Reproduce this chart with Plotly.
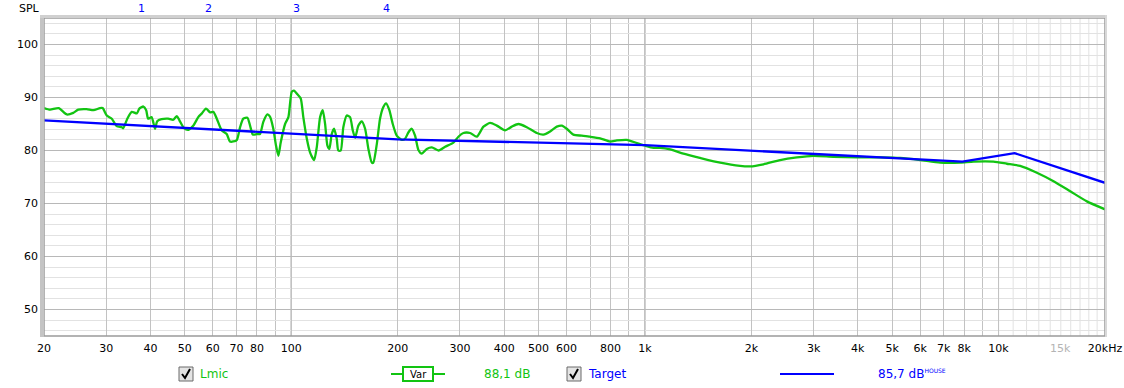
import numpy as np
import plotly.graph_objects as go

# ---------------- data ----------------
lmic_freq = [20.0, 20.8, 22.0, 23.2, 24.2, 25.0, 26.4, 27.6, 28.8, 29.3, 30.1, 31.1, 32.1, 33.2, 33.5,
             34.4, 35.4, 36.6, 37.2, 38.2, 38.9, 39.4, 40.3, 41.2, 41.8, 43.0, 44.9, 46.4, 47.5, 48.3,
             49.8, 51.2, 52.9, 54.6, 55.9, 57.4, 59.0, 60.2, 61.6, 63.6, 65.7, 67.1, 68.6, 70.2, 71.7,
             73.2, 75.2, 76.5, 77.9, 79.9, 81.6, 83.4, 85.6, 87.1, 89.0, 90.6, 92.0, 93.4, 96.1, 98.2,
             100.4, 101.9, 104.1, 106.4, 108.2, 110.7, 113.1, 116.1, 118.1, 120.7, 122.8, 124.7, 126.6,
             128.2, 130.2, 132.2, 134.5, 135.9, 138.1, 140.4, 143.6, 146.7, 149.3, 151.6, 154.9, 158.3,
             161.8, 165.3, 169.0, 170.7, 174.6, 178.3, 182.2, 185.5, 189.5, 193.7, 198.8, 205.4, 209.8,
             214.4, 219.2, 224.0, 228.9, 234.0, 241.8, 249.8, 260.9, 272.4, 287.5, 297.0, 306.8, 320.6,
             334.8, 349.6, 365.1, 381.4, 402.6, 420.4, 438.9, 463.6, 494.8, 516.6, 539.6, 563.6, 582.3,
             601.5, 627.9, 663.3, 700.2, 747.5, 797.5, 833.1, 889.2, 949.2, 1002, 1057, 1104, 1179, 1285,
             1433, 1633, 1859, 1984, 2165, 2413, 2690, 2995, 3414, 3977, 4629, 5271, 6006, 6840, 7790,
             8497, 9676, 10560, 11512, 12836, 14305, 15949, 17776, 20000]
lmic_db = [88.0, 87.7, 88.0, 86.8, 87.1, 87.7, 87.8, 87.6, 88.0, 88.0, 86.6, 86.0, 84.6, 84.4, 84.2,
           86.0, 87.3, 87.0, 87.9, 88.3, 87.6, 86.0, 86.3, 84.1, 85.5, 85.9, 86.0, 85.8, 86.5, 85.7,
           84.2, 83.9, 84.7, 86.3, 87.0, 87.9, 87.2, 87.3, 86.0, 83.8, 83.1, 81.7, 81.7, 82.0, 84.4,
           86.0, 86.2, 84.7, 83.0, 83.1, 83.1, 85.4, 86.8, 86.4, 84.1, 80.9, 79.0, 81.5, 85.0, 86.3,
           91.1, 91.3, 90.6, 89.8, 86.3, 82.2, 79.6, 78.2, 80.6, 86.3, 87.6, 85.0, 80.9,
           80.3, 83.1, 84.1, 82.2, 80.0, 80.0, 84.4, 86.6, 86.3, 83.8, 82.4, 84.7, 85.5,
           84.1, 80.3, 77.7, 77.7, 81.2, 86.0, 88.2, 88.9, 87.6, 85.0, 82.8, 82.0, 82.2,
           83.4, 84.1, 82.8, 80.1, 79.4, 80.3, 80.6, 80.0, 80.7, 81.5, 82.6, 83.3, 83.3,
           82.6, 84.5, 85.2, 84.7, 83.8, 84.5, 85.0, 84.4, 83.3, 83.0, 83.6, 84.5, 84.7,
           84.1, 83.0, 82.8, 82.6, 82.3, 81.7, 81.9, 82.0, 81.4, 80.9, 80.5, 80.5, 80.2, 79.4,
           78.6, 77.7, 77.1, 77.0, 77.4, 78.2, 78.7, 79.0, 78.8, 78.7, 78.7, 78.6, 78.2, 77.7, 77.7,
           77.9, 77.9, 77.5, 77.1, 75.8, 74.2, 72.3, 70.4, 68.9]

target_freq = [20, 200, 1000, 7900, 11100, 20000]
target_db = [85.7, 82.1, 81.0, 77.9, 79.5, 73.9]

tick_vals = [20, 30, 40, 50, 60, 70, 80, 100, 200, 300, 400, 500, 600, 800,
             1000, 2000, 3000, 4000, 5000, 6000, 7000, 8000, 10000, 20000]
tick_text = ["20", "30", "40", "50", "60", "70", "80", "100", "200", "300", "400", "500", "600",
             "800", "1k", "2k", "3k", "4k", "5k", "6k", "7k", "8k", "10k", "20kHz"]
unlabelled_grid = [90, 700, 900, 9000]
light_grid = [11000, 12000, 13000, 14000, 15000, 16000, 17000, 18000, 19000]
dark_grid = [100, 1000, 10000]
gray_label_freq = 15000
gray_label_text = "15k"

mode_freqs = [37.8, 58.3, 103.2, 186.3]
mode_labels = ["1", "2", "3", "4"]

y_range = [45, 105]

# ---------------- style ----------------
W, H = 1124, 388
L, R, T, B = 44, 1105, 18, 336
FONT = "DejaVu Sans"
GREEN = "#12c412"
BLUE = "#0000ff"


def px(x):
    return (x - L) / (R - L)


def py(y):
    return (B - y) / (B - T)


fig = go.Figure()
fig.add_trace(go.Scatter(x=lmic_freq, y=lmic_db, mode="lines",
                         line=dict(color=GREEN, width=2.3, shape="spline", smoothing=0.6),
                         hoverinfo="skip", showlegend=False))
fig.add_trace(go.Scatter(x=target_freq, y=target_db, mode="lines",
                         line=dict(color=BLUE, width=2.3),
                         hoverinfo="skip", showlegend=False))

shapes = []
for f in light_grid:
    shapes.append(dict(type="line", xref="x", yref="paper", x0=f, x1=f, y0=0, y1=1,
                       line=dict(color="#e2e2e2", width=1), layer="below"))
for f in dark_grid:
    shapes.append(dict(type="line", xref="x", yref="paper", x0=f, x1=f, y0=0, y1=1,
                       line=dict(color="#7c7c7c", width=1), layer="below"))
# frame
shapes.append(dict(type="rect", xref="paper", yref="paper", x0=0, x1=1, y0=0, y1=1,
                   line=dict(color="#9a9a9a", width=1.5), layer="above"))
shapes.append(dict(type="rect", xref="paper", yref="paper", x0=px(40), x1=px(44), y0=py(B + 1), y1=py(T - 3),
                   line=dict(width=0), fillcolor="#c4c4c4", layer="above"))
shapes.append(dict(type="rect", xref="paper", yref="paper", x0=px(40), x1=px(R + 1), y0=py(T), y1=py(T - 3),
                   line=dict(width=0), fillcolor="#d0d0d0", layer="above"))
shapes.append(dict(type="rect", xref="paper", yref="paper", x0=px(R), x1=px(R + 2), y0=py(B + 1), y1=py(T - 3),
                   line=dict(width=0), fillcolor="#d8d8d8", layer="above"))

annotations = []
annotations.append(dict(text="SPL", xref="paper", yref="paper", x=px(29), y=py(8), showarrow=False,
                        font=dict(family=FONT, size=11, color="#000"), xanchor="center", yanchor="middle"))
for f, t in zip(mode_freqs, mode_labels):
    annotations.append(dict(text=t, xref="x", yref="paper", x=np.log10(f), y=py(8), showarrow=False,
                            font=dict(family=FONT, size=11, color=BLUE), xanchor="center", yanchor="middle"))
annotations.append(dict(text=gray_label_text, xref="x", yref="paper", x=np.log10(gray_label_freq), y=py(348),
                        showarrow=False, font=dict(family=FONT, size=11, color="#b4b4b4"),
                        xanchor="center", yanchor="middle"))

# legend row
LY = 374
for cx in (186, 574):
    shapes.append(dict(type="rect", xref="paper", yref="paper", x0=px(cx - 7), x1=px(cx + 7),
                       y0=py(LY + 7), y1=py(LY - 7), line=dict(color="#6a6a6a", width=1),
                       fillcolor="#e4e4e4", layer="above"))
    path = "M {:.5f},{:.5f} L {:.5f},{:.5f} L {:.5f},{:.5f}".format(
        px(cx - 4), py(LY), px(cx - 1), py(LY + 4), px(cx + 4), py(LY - 5))
    shapes.append(dict(type="path", xref="paper", yref="paper", path=path,
                       line=dict(color="#000", width=2), layer="above"))
annotations.append(dict(text="Lmic", xref="paper", yref="paper", x=px(198), y=py(LY), showarrow=False,
                        font=dict(family=FONT, size=12, color=GREEN), xanchor="left", yanchor="middle"))
shapes.append(dict(type="line", xref="paper", yref="paper", x0=px(391), x1=px(445), y0=py(LY), y1=py(LY),
                   line=dict(color=GREEN, width=2), layer="above"))
shapes.append(dict(type="rect", xref="paper", yref="paper", x0=px(403), x1=px(433), y0=py(LY + 7), y1=py(LY - 7),
                   line=dict(color=GREEN, width=2), fillcolor="#ffffff", layer="above"))
annotations.append(dict(text="Var", xref="paper", yref="paper", x=px(418), y=py(LY), showarrow=False,
                        font=dict(family=FONT, size=10, color="#000"), xanchor="center", yanchor="middle"))
annotations.append(dict(text="88,1 dB", xref="paper", yref="paper", x=px(507), y=py(LY), showarrow=False,
                        font=dict(family=FONT, size=12, color=GREEN), xanchor="center", yanchor="middle"))
annotations.append(dict(text="Target", xref="paper", yref="paper", x=px(586), y=py(LY), showarrow=False,
                        font=dict(family=FONT, size=12, color=BLUE), xanchor="left", yanchor="middle"))
shapes.append(dict(type="line", xref="paper", yref="paper", x0=px(780), x1=px(834), y0=py(LY), y1=py(LY),
                   line=dict(color=BLUE, width=2), layer="above"))
annotations.append(dict(text="85,7 dB<sup><span style='font-size:6px'>HOUSE</span></sup>",
                        xref="paper", yref="paper", x=px(876), y=py(LY), showarrow=False,
                        font=dict(family=FONT, size=12, color=BLUE), xanchor="left", yanchor="middle"))

fig.update_layout(
    template="none",
    width=W, height=H,
    margin=dict(l=L, r=W - R, t=T, b=H - B, pad=0, autoexpand=False),
    paper_bgcolor="#ffffff", plot_bgcolor="#ffffff",
    font=dict(family=FONT, size=11, color="#000"),
    shapes=shapes, annotations=annotations,
    hovermode=False,
    xaxis=dict(type="log", range=[np.log10(20), np.log10(20000)], automargin=False,
               tickmode="array", tickvals=tick_vals, ticktext=tick_text,
               showgrid=True, gridcolor="#c2c2c2", gridwidth=1,
               minor=dict(tickmode="array", tickvals=unlabelled_grid, showgrid=True,
                          gridcolor="#c2c2c2", gridwidth=1, ticks=""),
               ticks="", ticklabelstandoff=4, zeroline=False, showline=False,
               tickfont=dict(family=FONT, size=11, color="#000"), fixedrange=True),
    yaxis=dict(range=y_range, tickmode="linear", tick0=0, dtick=10, automargin=False,
               showgrid=True, gridcolor="#b8b8b8", gridwidth=1,
               minor=dict(dtick=2, tick0=0, showgrid=True, gridcolor="#e2e2e2", ticks=""),
               ticks="", ticklabelstandoff=5, zeroline=False, showline=False,
               tickfont=dict(family=FONT, size=11, color="#000"), fixedrange=True),
)

fig.write_html("out.html", config=dict(displayModeBar=False, staticPlot=True))
